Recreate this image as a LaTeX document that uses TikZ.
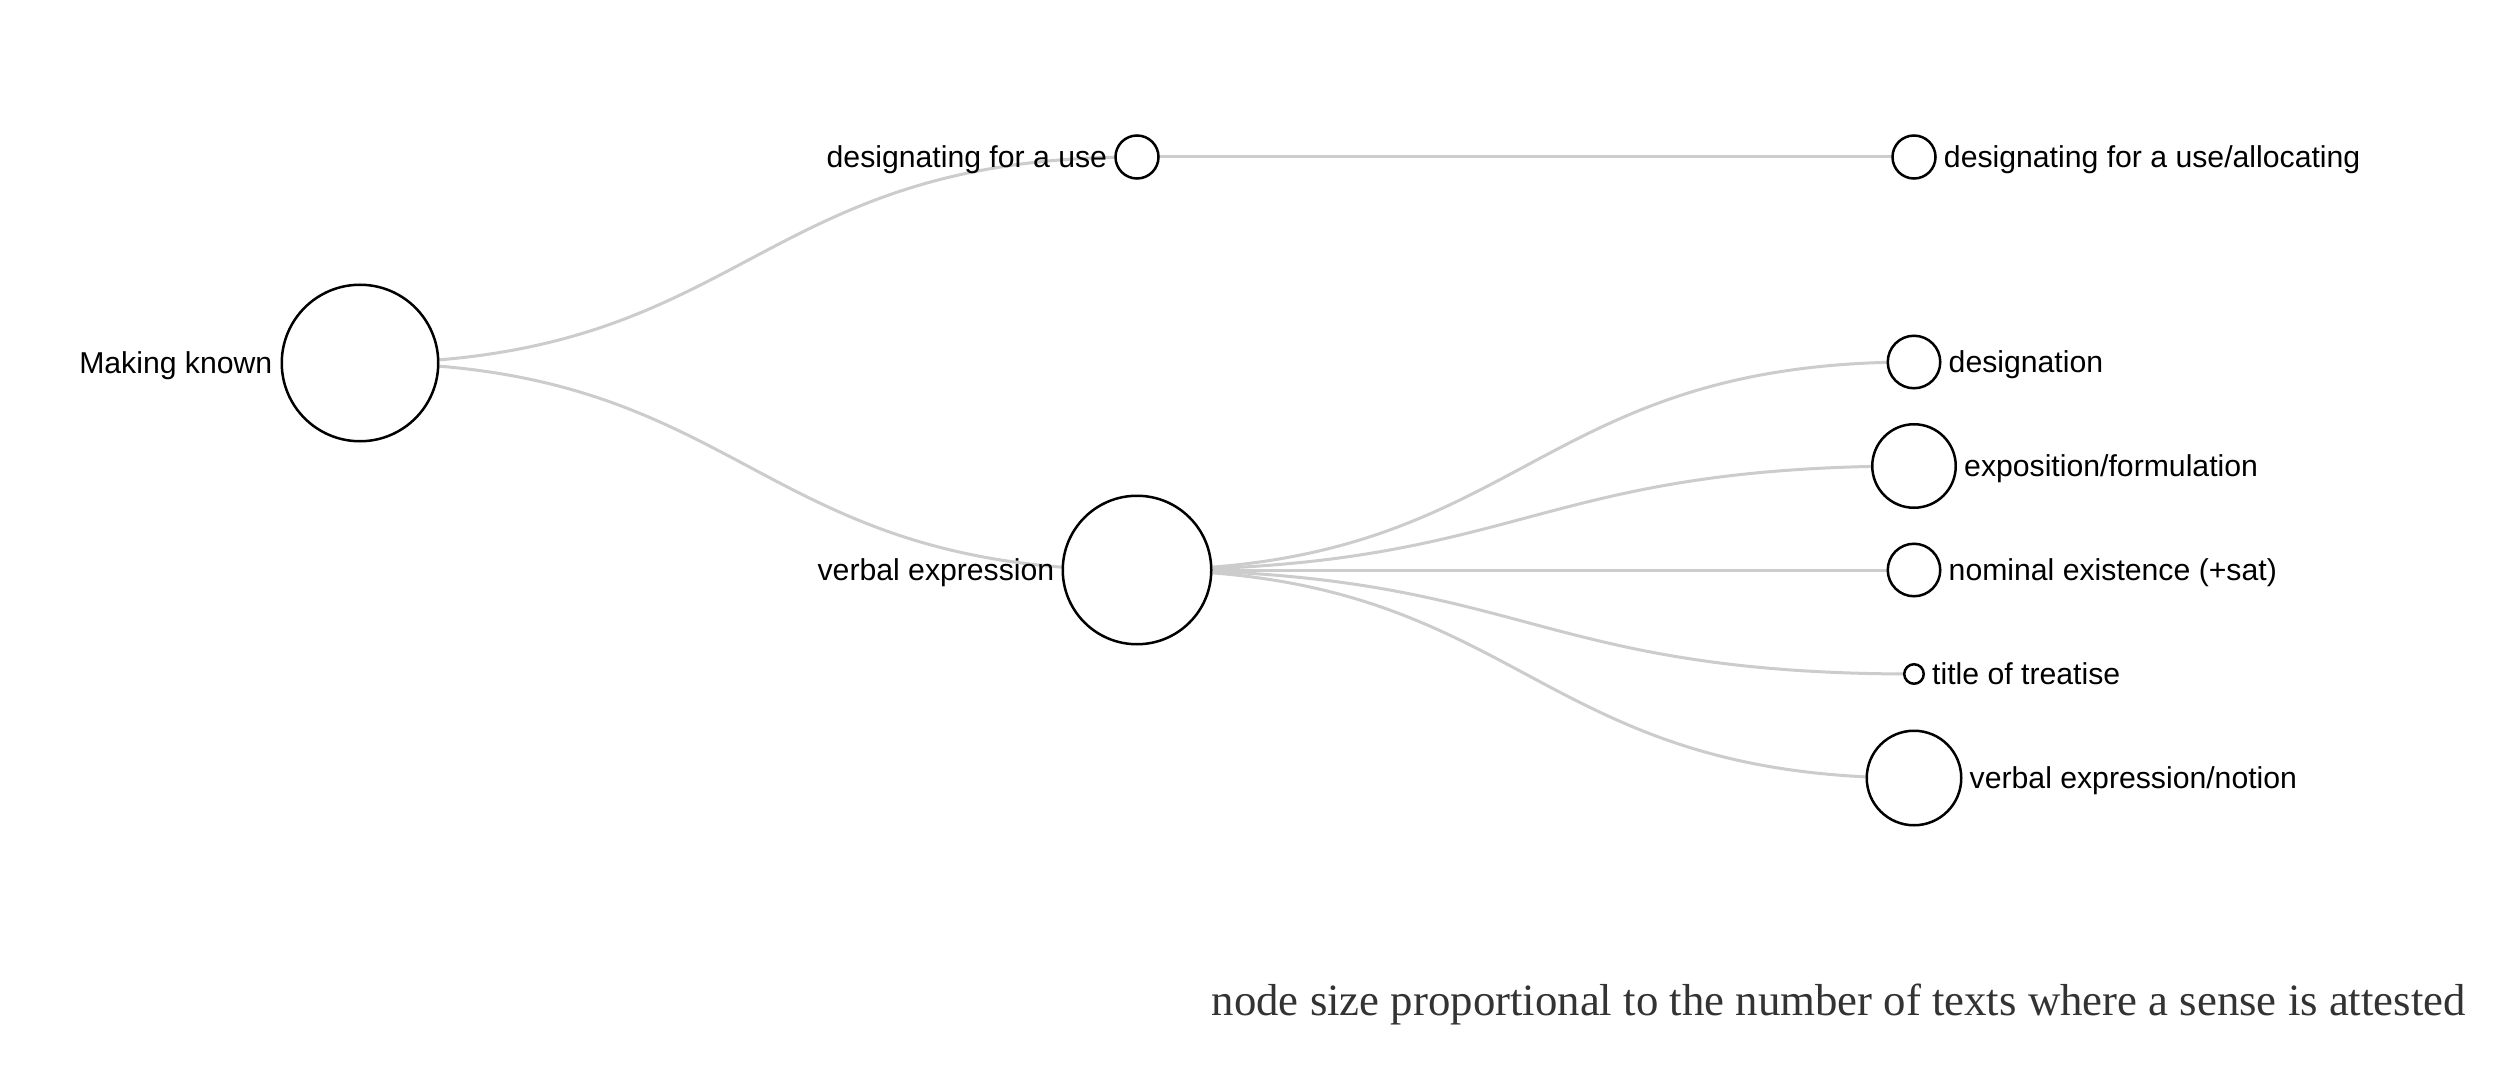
\documentclass[tikz,border=0pt]{standalone}
\usepackage{fontspec}
\setmainfont{Liberation Sans}
\newfontfamily\footfont{Liberation Serif}
\usetikzlibrary{calc}
\pgfdeclarelayer{bg}
\pgfdeclarelayer{canvas}
\pgfsetlayers{canvas,bg,main}
\definecolor{linkgray}{HTML}{CCCCCC}
\definecolor{footgray}{HTML}{333333}
\newcommand\senselink[2]{%
  \begin{pgfonlayer}{bg}
  \draw[link] let \p1=(#1.center), \p2=(#2.center) in
    (\p1) .. controls ({(\x1+\x2)/2},\y1) and ({(\x1+\x2)/2},\y2) .. (\p2);
  \end{pgfonlayer}}
\begin{document}
\begin{tikzpicture}[x=1pt,y=-1pt,
  sense/.style={circle,draw=black,fill=white,line width=2.5pt,inner sep=0pt},
  lab/.style={inner sep=0pt,font=\fontsize{30.2}{36}\selectfont},
  llab/.style={lab,anchor=base east},
  rlab/.style={lab,anchor=base west},
  link/.style={draw=linkgray,line width=3pt}]
\begin{pgfonlayer}{canvas}
\path[use as bounding box,fill=white] (0,0) rectangle (2504,1086);
\end{pgfonlayer}
% nodes
\node[sense,minimum size=156.5pt] (mk) at (360,363) {};
\node[sense,minimum size=43pt]    (du) at (1137,157) {};
\node[sense,minimum size=148.5pt] (ve) at (1137,570) {};
\node[sense,minimum size=43pt]    (al) at (1914,157) {};
\node[sense,minimum size=52.5pt]  (dn) at (1914,362) {};
\node[sense,minimum size=83.5pt]  (ex) at (1914,466) {};
\node[sense,minimum size=52.5pt]  (no) at (1914,570) {};
\node[sense,minimum size=19.5pt]  (ti) at (1914,674) {};
\node[sense,minimum size=94.5pt]  (vn) at (1914,778) {};
% labels
\node[llab] (mkl) at ($(mk.west)+(-8,10.5)$) {Making known};
\node[llab] (dul) at ($(du.west)+(-7,10.5)$) {designating for a use};
\node[llab] (vel) at ($(ve.west)+(-7,10.5)$) {verbal expression};
\node[rlab] (all) at ($(al.east)+(7,10.5)$) {designating for a use/allocating};
\node[rlab] (dnl) at ($(dn.east)+(7,10.5)$) {designation};
\node[rlab] (exl) at ($(ex.east)+(7,10.5)$) {exposition/formulation};
\node[rlab] (nol) at ($(no.east)+(7,10.5)$) {nominal existence (+sat)};
\node[rlab] (til) at ($(ti.east)+(7,10.5)$) {title of treatise};
\node[rlab] (vnl) at ($(vn.east)+(7,10.5)$) {verbal expression/notion};
% links
\senselink{mk}{du}
\senselink{mk}{ve}
\senselink{du}{al}
\senselink{ve}{dn}
\senselink{ve}{ex}
\senselink{ve}{no}
\senselink{ve}{ti}
\senselink{ve}{vn}
% footnote
\node[anchor=base east,inner sep=0pt,text=footgray,
      font=\footfont\fontsize{44.8}{52}\selectfont] (note) at (2466,1015)
  {node size proportional to the number of texts where a sense is attested};
\end{tikzpicture}
\end{document}
